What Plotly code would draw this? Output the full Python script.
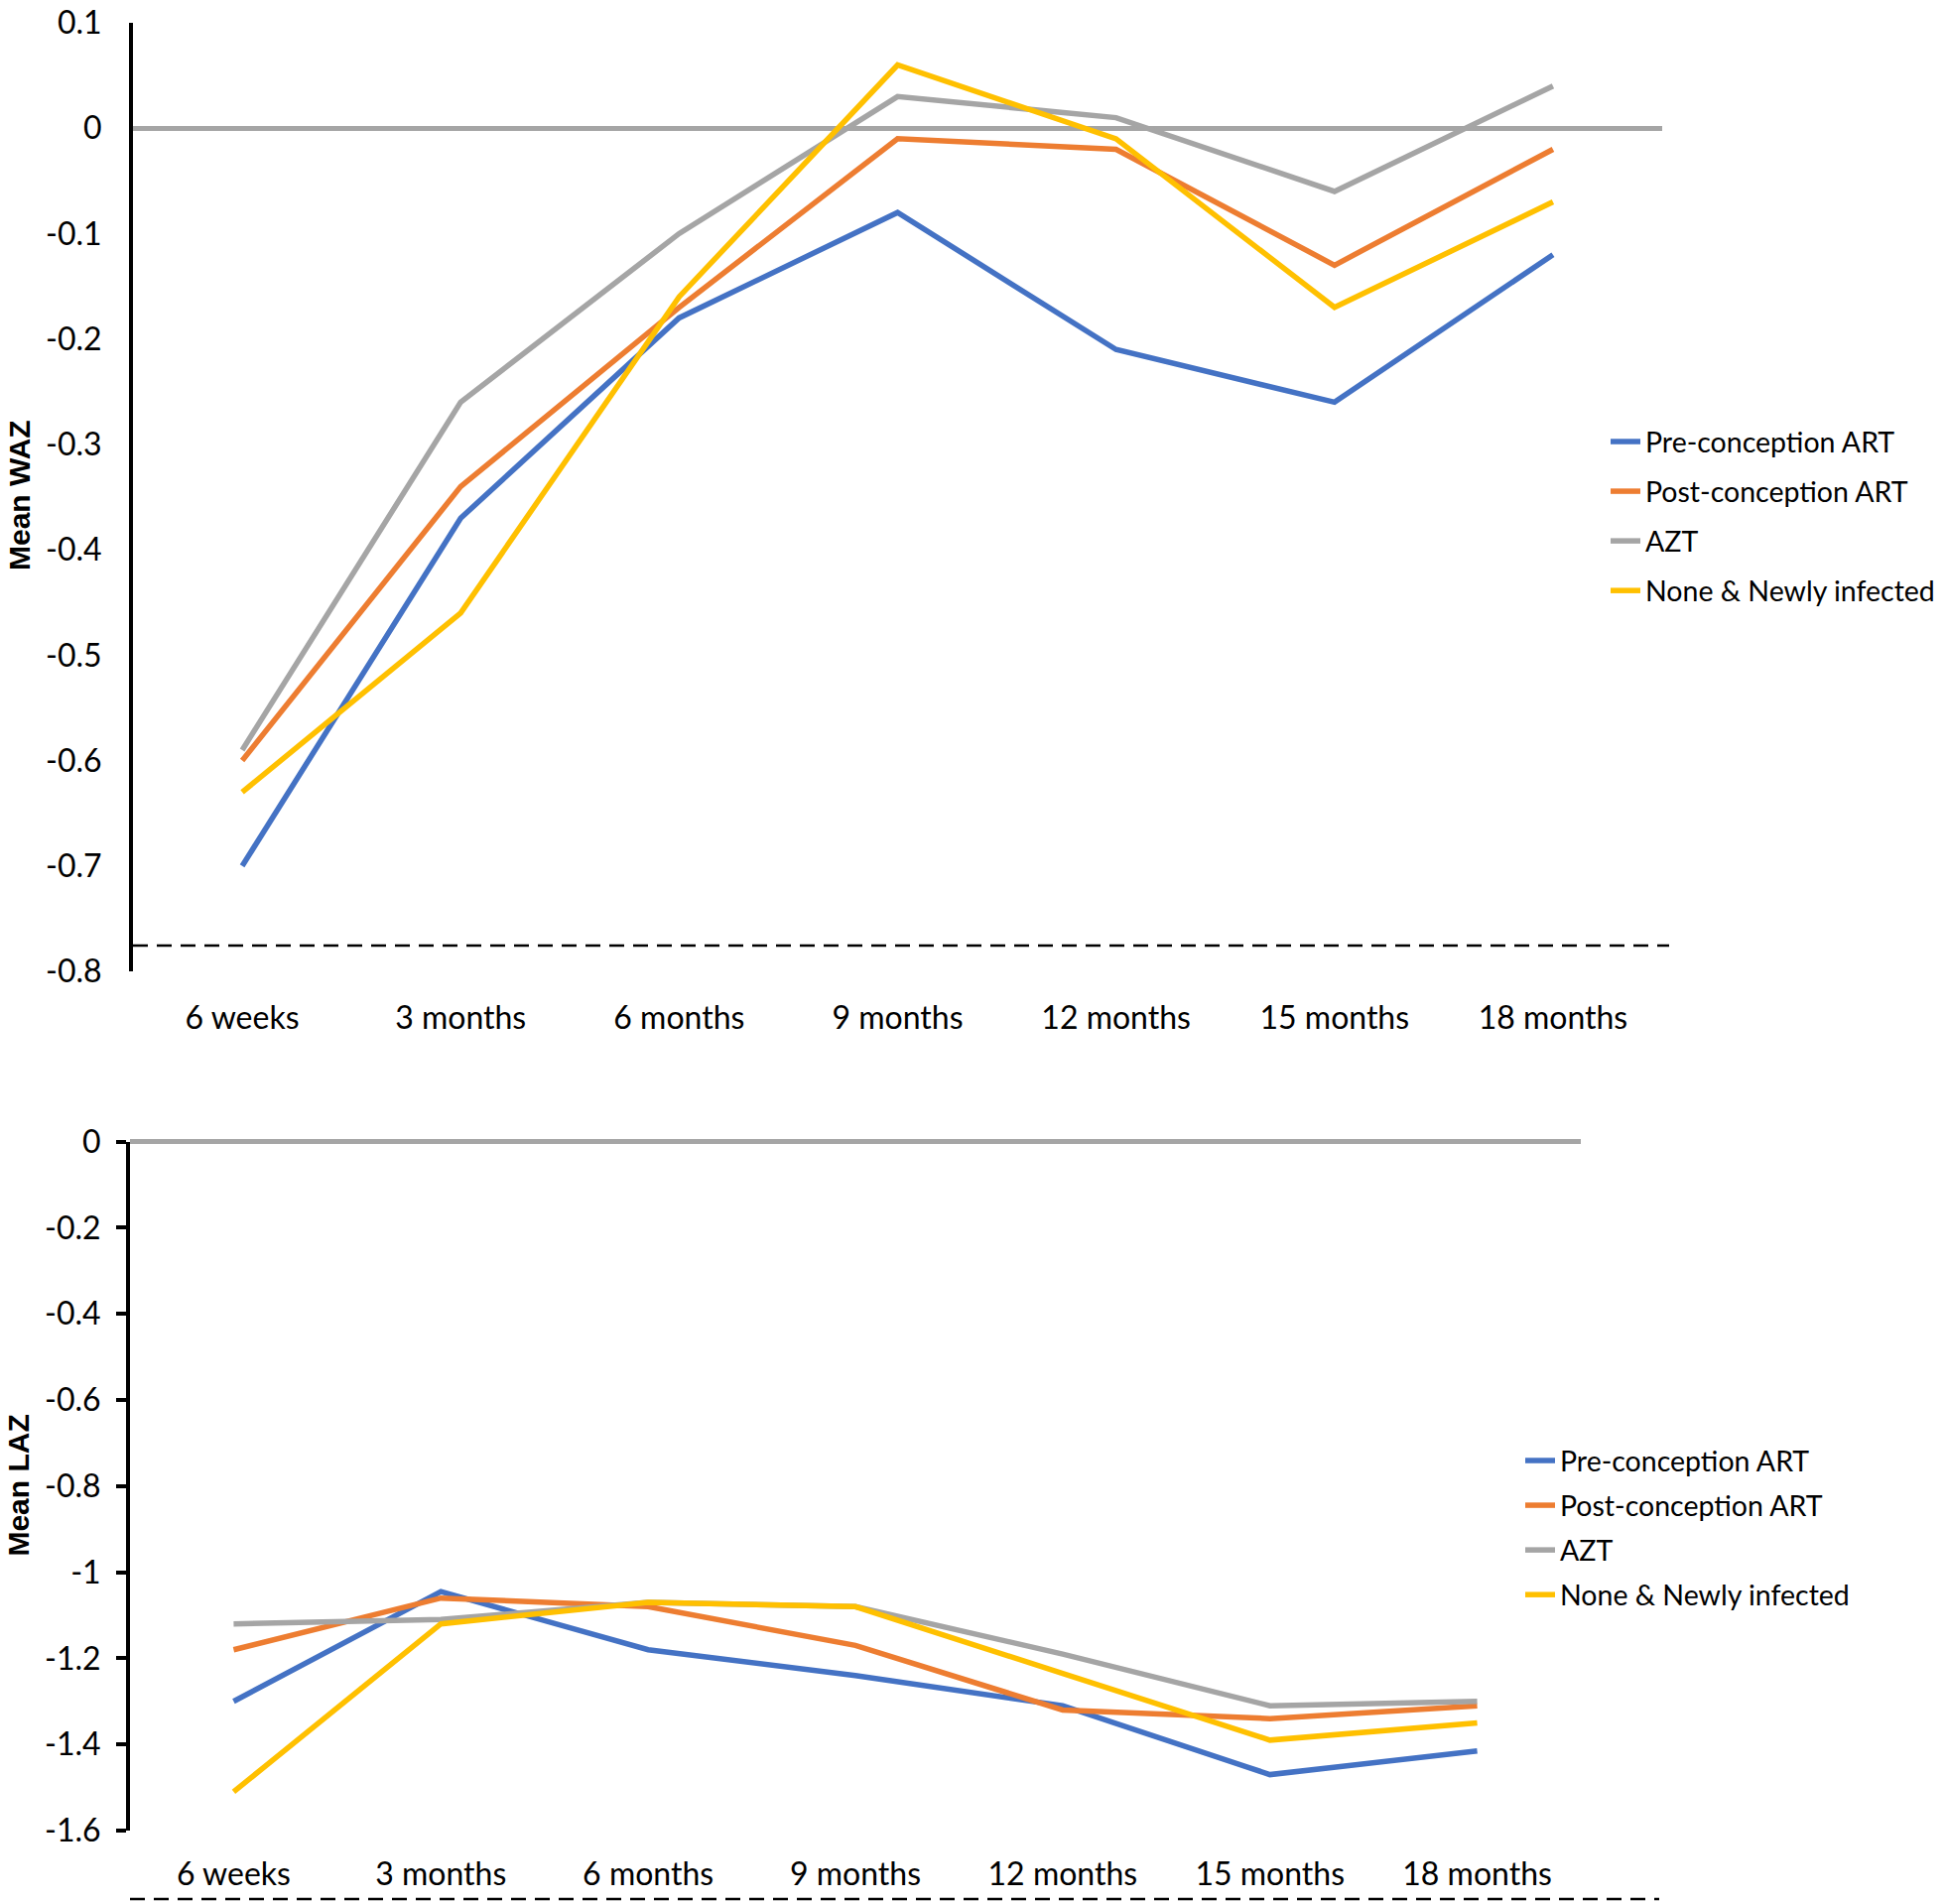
import plotly.graph_objects as go

W, H = 1961, 1919

categories = ["6 weeks", "3 months", "6 months", "9 months", "12 months", "15 months", "18 months"]
series_names = ["Pre-conception ART", "Post-conception ART", "AZT", "None & Newly infected"]
colors = ["#4472C4", "#ED7D31", "#A5A5A5", "#FFC000"]

# Mean WAZ (top panel)
waz_pre = [-0.70, -0.37, -0.18, -0.08, -0.21, -0.26, -0.12]
waz_post = [-0.60, -0.34, -0.17, -0.01, -0.02, -0.13, -0.02]
waz_azt = [-0.59, -0.26, -0.10, 0.03, 0.01, -0.06, 0.04]
waz_none = [-0.63, -0.46, -0.16, 0.06, -0.01, -0.17, -0.07]

# Mean LAZ (bottom panel)
laz_pre = [-1.30, -1.045, -1.18, -1.24, -1.31, -1.47, -1.415]
laz_post = [-1.18, -1.06, -1.08, -1.17, -1.32, -1.34, -1.31]
laz_azt = [-1.12, -1.11, -1.07, -1.08, -1.19, -1.31, -1.30]
laz_none = [-1.51, -1.12, -1.07, -1.08, -1.235, -1.39, -1.35]

waz_ticks = [0.1, 0, -0.1, -0.2, -0.3, -0.4, -0.5, -0.6, -0.7, -0.8]
waz_ticktext = ["0.1", "0", "-0.1", "-0.2", "-0.3", "-0.4", "-0.5", "-0.6", "-0.7", "-0.8"]
laz_ticks = [0, -0.2, -0.4, -0.6, -0.8, -1.0, -1.2, -1.4, -1.6]
laz_ticktext = ["0", "-0.2", "-0.4", "-0.6", "-0.8", "-1", "-1.2", "-1.4", "-1.6"]

FONT = "Lato"
TICK_FS = 32
LEG_FS = 28.5

fig = go.Figure()

waz = [waz_pre, waz_post, waz_azt, waz_none]
laz = [laz_pre, laz_post, laz_azt, laz_none]

for i, (name, vals) in enumerate(zip(series_names, waz)):
    fig.add_trace(go.Scatter(x=categories, y=vals, mode="lines", name=name,
                             line=dict(color=colors[i], width=5.5),
                             xaxis="x", yaxis="y", legend="legend",
                             legendgroup=f"t{i}"))
for i, (name, vals) in enumerate(zip(series_names, laz)):
    fig.add_trace(go.Scatter(x=categories, y=vals, mode="lines", name=name,
                             line=dict(color=colors[i], width=5.5),
                             xaxis="x2", yaxis="y2", legend="legend2",
                             legendgroup=f"b{i}"))

def px_x(p):
    return p / W

def px_y(p):
    return 1 - p / H

common_x = dict(type="category", showline=False, showgrid=False, zeroline=False,
                ticks="", tickfont=dict(family=FONT, size=TICK_FS, color="black"),
                range=[-0.5, 6.5], automargin=False, ticklabeloverflow="allow")

fig.update_layout(
    width=W, height=H,
    margin=dict(l=0, r=0, t=0, b=0, autoexpand=False),
    paper_bgcolor="white", plot_bgcolor="white",
    xaxis=dict(domain=[px_x(134), px_x(1675)], anchor="y", ticklabelstandoff=25, **common_x),
    yaxis=dict(domain=[px_y(979), px_y(23)], anchor="x", range=[-0.8, 0.1],
               tickvals=waz_ticks, ticktext=waz_ticktext, automargin=False,
               ticklabeloverflow="allow",
               showgrid=False, showline=True, linecolor="black", linewidth=4,
               zeroline=True, zerolinecolor="#A5A5A5", zerolinewidth=5,
               ticks="", ticklabelstandoff=21,
               tickfont=dict(family=FONT, size=TICK_FS, color="black")),
    xaxis2=dict(domain=[px_x(131), px_x(1593)], anchor="y2", ticklabelstandoff=22, **common_x),
    yaxis2=dict(domain=[px_y(1845), px_y(1150.6)], anchor="x2", range=[-1.6, 0],
                tickvals=laz_ticks, ticktext=laz_ticktext, automargin=False,
                ticklabeloverflow="allow",
                showgrid=False, showline=True, linecolor="black", linewidth=4,
                zeroline=True, zerolinecolor="#A5A5A5", zerolinewidth=5,
                ticks="outside", ticklen=10, tickwidth=4, tickcolor="black",
                ticklabelstandoff=9,
                tickfont=dict(family=FONT, size=TICK_FS, color="black")),
    legend=dict(x=px_x(1618), y=px_y(420), xanchor="left", yanchor="top",
                font=dict(family=FONT, size=LEG_FS, color="black"),
                bgcolor="rgba(0,0,0,0)", tracegroupgap=10, borderwidth=0),
    legend2=dict(x=px_x(1532), y=px_y(1447), xanchor="left", yanchor="top",
                 font=dict(family=FONT, size=LEG_FS, color="black"),
                 bgcolor="rgba(0,0,0,0)", tracegroupgap=5, borderwidth=0),
    shapes=[
        dict(type="line", xref="paper", yref="paper",
             x0=px_x(134), x1=px_x(1682), y0=px_y(953), y1=px_y(953),
             line=dict(color="black", width=2.5, dash="15px,9px")),
        dict(type="line", xref="paper", yref="paper",
             x0=px_x(131), x1=px_x(1672), y0=px_y(1914), y1=px_y(1914),
             line=dict(color="black", width=2.5, dash="15px,9px")),
    ],
    annotations=[
        dict(text="<b>Mean WAZ</b>", xref="paper", yref="paper",
             x=px_x(19), y=px_y(499), textangle=-90, showarrow=False,
             xanchor="center", yanchor="middle",
             font=dict(family="Liberation Sans", size=30, color="black")),
        dict(text="<b>Mean LAZ</b>", xref="paper", yref="paper",
             x=px_x(19), y=px_y(1497.6), textangle=-90, showarrow=False,
             xanchor="center", yanchor="middle",
             font=dict(family="Liberation Sans", size=30, color="black")),
    ],
)

fig.write_html(
    "out.html",
    config={"displayModeBar": False},
    post_script="document.body.style.margin='0';document.body.style.overflow='hidden';",
)
